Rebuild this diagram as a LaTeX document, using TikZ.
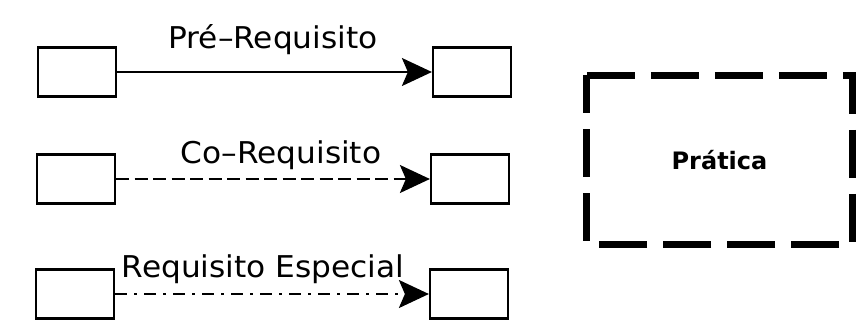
\documentclass[tikz,border=0pt]{standalone}
\usepackage{fontspec}
\setmainfont{DejaVu Sans}
\newfontfamily\lblfont[FakeStretch=1.04]{DejaVu Sans}
\newfontfamily\boldlblfont{DejaVu Sans Bold}
\usetikzlibrary{arrows.meta}
\tikzset{
  box/.style={draw, line width=2.2bp, minimum width=78bp, minimum height=49bp, inner sep=0pt},
  conn/.style={line width=2bp, -{Stealth[length=30bp, width=28bp, inset=6bp]}},
  lbl/.style={anchor=base, inner sep=0pt, font=\lblfont\fontsize{30bp}{30bp}\selectfont},
  dashconn/.style={conn, dash pattern=on 13bp off 5.5bp},
  dotconn/.style={conn, dash pattern=on 12bp off 7bp on 3bp off 7bp},
  practiceline/.style={draw, line width=7bp, dash pattern=on 48bp off 16bp},
  practicetext/.style={minimum width=265bp, minimum height=169bp, inner sep=0pt, font=\boldlblfont\fontsize{24bp}{24bp}\selectfont}
}
\begin{document}
\begin{tikzpicture}[x=1bp, y=-1bp]
\useasboundingbox (0,0) rectangle (857,330);
\node[box] (a1) at (77,72) {};
\node[box] (b1) at (472,72) {};
\node[box] (a2) at (76,179) {};
\node[box] (b2) at (470,179) {};
\node[box] (a3) at (75,294) {};
\node[box] (b3) at (469,294) {};
\draw[conn] (a1) -- (b1);
\draw[dashconn] (a2) -- (b2);
\draw[dotconn] (a3) -- (b3);
\node[lbl] (l1) at (273,48) {Pré–Requisito};
\node[lbl] (l2) at (281,163) {Co–Requisito};
\node[lbl] (l3) at (263,277) {Requisito Especial};
\node[practicetext] (p) at (719.5,160) {Prática};
\draw[practiceline] (p.north west) -- (p.north east) -- (p.south east) -- (p.south west) -- cycle;
\end{tikzpicture}
\end{document}
